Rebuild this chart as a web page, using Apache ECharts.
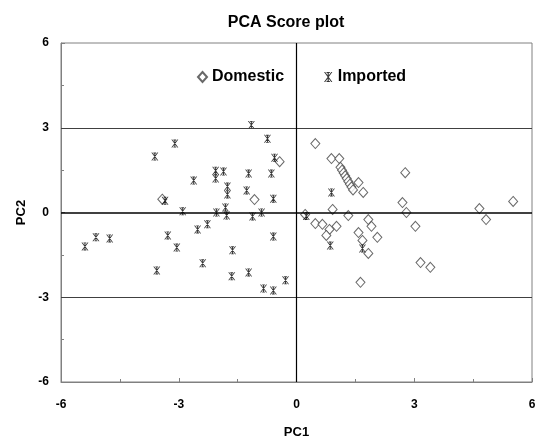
<!DOCTYPE html>
<html><head><meta charset="utf-8">
<script src="https://cdn.jsdelivr.net/npm/echarts@6/dist/echarts.min.js"></script>
<style>html,body{margin:0;padding:0;background:#fff;overflow:hidden;width:538px;height:439px}#c{width:538px;height:439px}</style>
</head><body><div id="c"></div>
<script>
const xTicks = [-6, -3, 0, 3, 6];
const yTicks = [-6, -3, 0, 3, 6];
const seriesNames = ['Domestic', 'Imported'];
const domestic = [
  [-3.42,0.47],[-0.43,1.8],[-1.07,0.46],[0.22,-0.07],
  [0.48,2.44],[0.89,1.91],[1.09,1.91],
  [1.12,1.6],[1.16,1.5],[1.2,1.4],[1.24,1.3],[1.28,1.2],[1.32,1.1],[1.36,1.0],[1.4,0.9],[1.44,0.8],
  [1.58,1.06],[1.7,0.71],[2.77,1.41],[2.7,0.35],[2.8,0.0],[0.92,0.11],[1.32,-0.11],
  [0.48,-0.39],[0.66,-0.42],[1.02,-0.49],[0.84,-0.6],[0.76,-0.81],[1.83,-0.25],[1.91,-0.49],
  [1.58,-0.71],[1.68,-0.99],[2.06,-0.88],[1.83,-1.45],[1.63,-2.47],[3.03,-0.49],[3.16,-1.77],
  [3.41,-1.94],[4.66,0.14],[4.83,-0.25],[5.52,0.39]
];
const imported = [
  [-5.39,-1.2],[-5.11,-0.88],[-4.76,-0.92],[-3.61,1.98],[-3.1,2.44],[-3.35,0.42],[-3.28,-0.81],
  [-3.05,-1.24],[-3.56,-2.05],[-2.9,0.04],[-1.15,3.1],[-0.74,2.61],[-0.56,1.94],[-2.06,1.48],
  [-1.86,1.45],[-2.06,1.2],[-2.62,1.13],[-1.22,1.38],[-0.64,1.38],[-1.76,0.92],[-1.76,0.64],
  [-1.27,0.78],[-0.59,0.49],[-1.81,0.18],[-2.04,0.0],[-1.78,-0.11],[-1.12,-0.14],[-0.89,0.0],
  [-2.27,-0.42],[-2.52,-0.6],[-0.59,-0.85],[-1.63,-1.34],[-2.39,-1.8],[-1.22,-2.12],[-1.65,-2.26],
  [-0.28,-2.4],[-0.84,-2.69],[-0.59,-2.76],[0.25,-0.12],[0.89,0.71],[0.86,-1.17],[1.68,-1.27]
];
const refLinesY = [3, -3];
const zeroLine = 0;

const FONT = 'Liberation Sans, Arial, sans-serif';
const star = 'path://M0,0L1.4,0L10,12L8.6,12ZM8.6,0L10,0L1.4,12L0,12ZM4.3,0L5.7,0L5.7,12L4.3,12ZM3,0L7,0L7,1.3L3,1.3ZM3,10.7L7,10.7L7,12L3,12Z';
const chart = echarts.init(document.getElementById('c'), null, {width: 538, height: 439});
chart.setOption({
  animation: false,
  backgroundColor: '#fff',
  title: {
    text: 'PCA Score plot', left: 281, top: 10, textAlign: 'center',
    textStyle: {fontFamily: FONT, fontSize: 16, fontWeight: 'bold', color: '#000'}
  },
  legend: {
    left: 192, top: 64, itemWidth: 9, itemHeight: 10, itemGap: 40,
    data: seriesNames,
    textStyle: {fontFamily: FONT, fontSize: 16, fontWeight: 'bold', color: '#000'}
  },
  grid: {left: 61, right: 6, top: 43, bottom: 57, show: true, borderColor: '#808080', borderWidth: 1, backgroundColor: '#fff', outerBoundsMode: 'none', containLabel: false},
  xAxis: {
    type: 'value', min: xTicks[0], max: xTicks[xTicks.length-1], interval: 3,
    name: 'PC1', nameLocation: 'middle', nameGap: 44,
    nameTextStyle: {fontFamily: FONT, fontSize: 13, fontWeight: 'bold', color: '#000'},
    axisLine: {show: true, onZero: false, lineStyle: {color: '#808080'}},
    axisTick: {show: true, inside: true, length: 4, lineStyle: {color: '#808080'}},
    minorTick: {show: true, splitNumber: 2, length: 3, lineStyle: {color: '#808080'}},
    splitLine: {show: false},
    axisLabel: {fontFamily: FONT, fontSize: 12, fontWeight: 'bold', color: '#000', margin: 17}
  },
  yAxis: {
    type: 'value', min: yTicks[0], max: yTicks[yTicks.length-1], interval: 3,
    name: 'PC2', nameLocation: 'middle', nameGap: 33, nameRotate: 90,
    nameTextStyle: {fontFamily: FONT, fontSize: 13, fontWeight: 'bold', color: '#000'},
    axisLine: {show: true, onZero: false, lineStyle: {color: '#808080'}},
    axisTick: {show: true, inside: true, length: 4, lineStyle: {color: '#808080'}},
    minorTick: {show: true, splitNumber: 2, length: 3, lineStyle: {color: '#808080'}},
    splitLine: {show: false},
    axisLabel: {fontFamily: FONT, fontSize: 12, fontWeight: 'bold', color: '#000', margin: 12}
  },
  series: [
    {
      name: seriesNames[0], type: 'scatter', data: domestic,
      symbol: 'diamond', symbolSize: [9, 10],
      itemStyle: {color: '#fff', borderColor: '#444', borderWidth: 1},
      markLine: {
        silent: true, symbol: 'none', label: {show: false},
        data: [
          {yAxis: refLinesY[0], lineStyle: {color: '#404040', width: 1, type: 'solid'}},
          {yAxis: refLinesY[1], lineStyle: {color: '#404040', width: 1, type: 'solid'}},
          {yAxis: zeroLine, lineStyle: {color: '#000', width: 1.5, type: 'solid'}},
          {xAxis: zeroLine, lineStyle: {color: '#000', width: 1.2, type: 'solid'}}
        ]
      }
    },
    {
      name: seriesNames[1], type: 'scatter', data: imported,
      symbol: star, symbolSize: [7, 8],
      itemStyle: {color: '#000', borderWidth: 0}
    }
  ]
});
</script></body></html>
